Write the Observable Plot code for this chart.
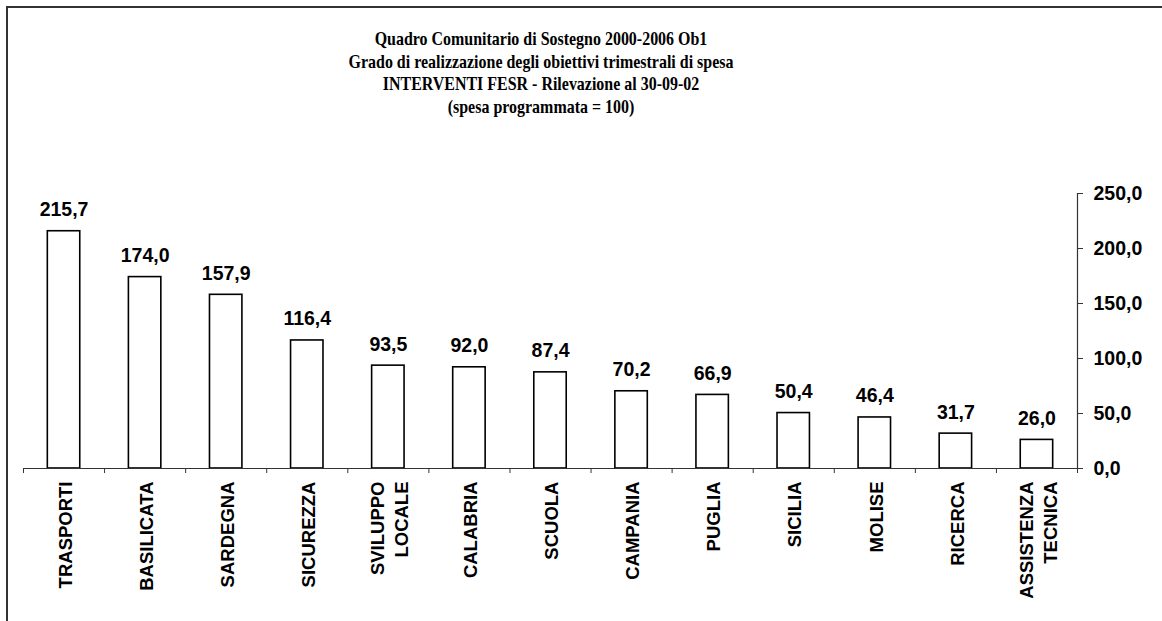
<!DOCTYPE html>
<html>
<head>
<meta charset="utf-8">
<script src="https://cdn.jsdelivr.net/npm/d3@7"></script>
<script src="https://cdn.jsdelivr.net/npm/@observablehq/plot@0.6"></script>
<style>
  html, body { margin: 0; padding: 0; background: #fff; overflow: hidden; width: 1162px; height: 621px; }
  #frame { position: absolute; left: 6px; top: 6px; width: 1200px; height: 700px; border: 2px solid #333; box-sizing: border-box; }
  #chart { position: absolute; left: 0; top: 0; width: 1162px; }
  #title { width: 1082px; height: 130px; box-sizing: border-box; padding-top: 28px; text-align: center;
           font-family: "Liberation Serif", "Times New Roman", serif; font-weight: bold; font-size: 19px; line-height: 22.5px; color: #000; }
  #title div { white-space: pre; transform: scaleX(0.84); transform-origin: 50% 50%; }
</style>
</head>
<body>
<div id="frame"></div>
<div id="chart">
  <div id="title"></div>
  <div id="plot"></div>
</div>
<script>
const titleLines = [
  "Quadro Comunitario di Sostegno 2000-2006 Ob1",
  "Grado di realizzazione degli obiettivi trimestrali di spesa",
  "INTERVENTI FESR - Rilevazione al 30-09-02",
  "(spesa programmata = 100)"
];
const categories = ["TRASPORTI", "BASILICATA", "SARDEGNA", "SICUREZZA", "SVILUPPO\nLOCALE", "CALABRIA", "SCUOLA", "CAMPANIA", "PUGLIA", "SICILIA", "MOLISE", "RICERCA", "ASSISTENZA\nTECNICA"];
const values = [215.7, 174.0, 157.9, 116.4, 93.5, 92.0, 87.4, 70.2, 66.9, 50.4, 46.4, 31.7, 26.0];
const yTicks = [0, 50, 100, 150, 200, 250];

const titleEl = document.getElementById("title");
for (const t of titleLines) { const d = document.createElement("div"); d.textContent = t; titleEl.appendChild(d); }

const data = categories.map((c, i) => ({cat: c, i, value: values[i]}));
const fmt = v => v.toFixed(1).replace(".", ",");
const sans = "Liberation Sans, Arial, sans-serif";

const chart = Plot.plot({
  width: 1162,
  height: 491,
  marginTop: 63,
  marginBottom: 153,
  marginLeft: 23,
  marginRight: 85,
  style: {fontFamily: sans, fontWeight: "bold", color: "#000", background: "transparent"},
  x: {type: "linear", domain: [0, categories.length], axis: null},
  y: {domain: [0, 250], axis: null},
  marks: [
    Plot.rectY(data, {x1: d => d.i + 0.3, x2: d => d.i + 0.7, y1: 0, y2: "value", fill: "#fff", stroke: "#000", strokeWidth: 1.6}),
    Plot.ruleY([0], {stroke: "#333", strokeWidth: 1.2}),
    Plot.ruleX([categories.length], {y1: 0, y2: 250, stroke: "#333", strokeWidth: 1.2}),
    Plot.axisX({ticks: d3.range(categories.length + 1), tickSize: 5, tickFormat: () => "", label: null, stroke: "#333"}),
    Plot.text(data, {x: d => d.i + 0.5, frameAnchor: "bottom", text: "cat", rotate: -90, textAnchor: "end", lineAnchor: "middle", dy: 13, fontSize: 18.5, lineHeight: 1.3, fill: "#000"}),
    Plot.axisY({anchor: "right", ticks: yTicks, tickFormat: fmt, tickSize: 5, tickPadding: 11, fontSize: 19.5, label: null, stroke: "#333", fill: "#000"}),
    Plot.text(data, {x: d => d.i + 0.5, y: "value", text: d => fmt(d.value), lineAnchor: "bottom", dy: -15, fontSize: 19.5, fill: "#000"})
  ]
});
document.getElementById("plot").appendChild(chart);
</script>
</body>
</html>
